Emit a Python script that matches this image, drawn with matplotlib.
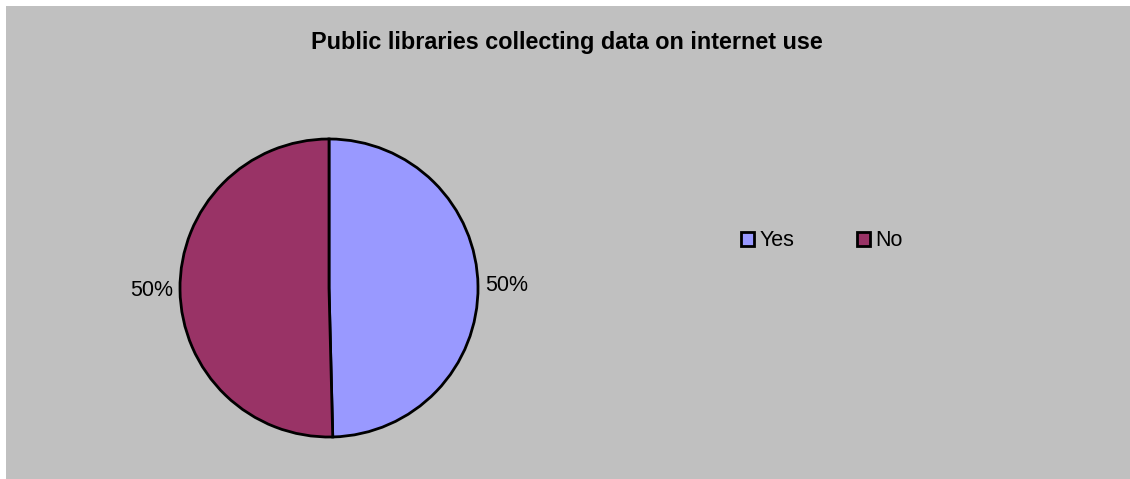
import matplotlib.pyplot as plt
from matplotlib.patches import Rectangle, Patch

# data
labels = ["Yes", "No"]
shares = [49.6, 50.4]
colors = ["#9999FF", "#993366"]
title = "Public libraries collecting data on internet use"

W, H = 1130, 479
fig = plt.figure(figsize=(W / 100, H / 100), dpi=100)
fig.patch.set_facecolor("white")
plt.rcParams['font.family'] = ['Liberation Sans', 'DejaVu Sans']

# gray chart area
fig.patches.append(Rectangle((6 / W, 0), 1 - 6 / W, 1 - 6 / H,
                             transform=fig.transFigure, facecolor="#C0C0C0",
                             edgecolor="none", zorder=-5))

fig.text(566.5 / W, 1 - 42 / H, title, ha="center", va="center",
         fontsize=16.85, fontweight="bold", zorder=5)

# pie
cx, cy, r = 329, 288, 149
ax = fig.add_axes([(cx - r) / W, (H - cy - r) / H, 2 * r / W, 2 * r / H])
ax.set_zorder(2)
wedges, texts, autotexts = ax.pie(shares, colors=colors, startangle=90,
                                  counterclock=False, autopct="%1.0f%%",
                                  pctdistance=1.19,
                                  wedgeprops=dict(edgecolor="black", linewidth=2))
for t in autotexts:
    t.set_fontsize(15.5)
ax.set_xlim(-1, 1)
ax.set_ylim(-1, 1)
ax.set_facecolor("none")

handles = [Patch(facecolor=c, edgecolor="black", linewidth=2) for c in colors]
leg = fig.legend(handles, labels, loc="center", bbox_to_anchor=(822 / W, 1 - 241 / H),
                 ncol=2, frameon=False, fontsize=15.5, handlelength=0.62,
                 handleheight=0.62, handletextpad=0.25, columnspacing=2.9)
leg.set_zorder(5)

fig.savefig("out.png", dpi=100)
